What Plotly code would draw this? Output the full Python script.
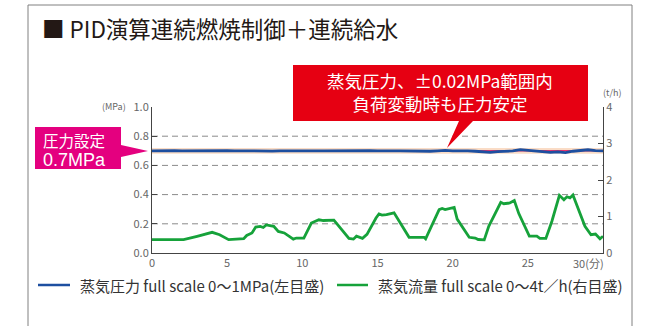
import plotly.graph_objects as go

# Steam pressure (MPa), sampled every 0.5 min
pressure_t = [i * 0.5 for i in range(61)]
pressure = [
    0.700, 0.702, 0.700, 0.701, 0.699, 0.700, 0.701, 0.700, 0.699, 0.700,
    0.701, 0.700, 0.699, 0.700, 0.701, 0.700, 0.698, 0.700, 0.701, 0.699,
    0.700, 0.701, 0.700, 0.699, 0.700, 0.701, 0.699, 0.698, 0.700, 0.701,
    0.699, 0.697, 0.699, 0.700, 0.698, 0.696, 0.695, 0.697, 0.700, 0.703,
    0.699, 0.701, 0.699, 0.697, 0.693, 0.689, 0.694, 0.696, 0.699, 0.708,
    0.702, 0.698, 0.693, 0.689, 0.692, 0.688, 0.697, 0.702, 0.707, 0.701,
    0.699,
]

# Steam flow (t/h)
flow_t = [0, 2.1, 3.0, 3.5, 4.0, 4.5, 5.1, 6.1, 6.3, 6.65, 6.9, 7.2, 7.4, 7.6,
          8.1, 8.4, 8.8, 9.4, 9.6, 10.1, 10.6, 11.1, 11.4, 12.1, 13.1, 13.4,
          13.6, 14.0, 14.3, 14.9, 15.1, 15.3, 15.6, 16.1, 17.1, 18.1, 18.2,
          19.1, 19.3, 19.5, 20.1, 20.3, 21.1, 21.5, 21.7, 22.1, 22.4, 23.2,
          23.4, 23.8, 24.1, 24.4, 25.1, 25.6, 25.8, 26.2, 26.6, 27.1, 27.4,
          27.6, 27.8, 28.0, 28.8, 29.2, 29.5, 29.8, 30.0]
flow = [0.366, 0.366, 0.457, 0.52, 0.567, 0.50, 0.366, 0.39, 0.48, 0.55, 0.71,
        0.73, 0.70, 0.77, 0.73, 0.59, 0.55, 0.38, 0.41, 0.41, 0.82, 0.91, 0.89,
        0.90, 0.40, 0.38, 0.46, 0.40, 0.51, 0.96, 1.07, 1.04, 1.05, 1.10, 0.43,
        0.43, 0.39, 1.19, 1.22, 1.19, 1.25, 0.93, 0.43, 0.41, 0.37, 0.36, 0.73,
        1.39, 1.35, 1.37, 1.44, 1.08, 0.46, 0.46, 0.40, 0.40, 0.87, 1.58, 1.46,
        1.54, 1.51, 1.59, 0.73, 0.50, 0.52, 0.39, 0.46]

set_point = 0.70
band = (0.68, 0.72)
grid_levels = [0.2, 0.4, 0.6, 0.8]
x_ticks = [0, 5, 10, 15, 20, 25]
left_ticks = [0.0, 0.2, 0.4, 0.6, 0.8, 1.0]
right_ticks = [0, 1, 2, 3, 4]

W, H = 646, 326
L, R, T, B = 152, 43, 107, 73
PW, PH = W - L - R, H - T - B

FONT = "Noto Sans CJK JP"
LATIN = "Liberation Sans"
BLUE = "#1d4fa0"
GREEN = "#16a23a"
MAGENTA = "#e4007f"
RED = "#e60012"


def px(x):
    return (x - L) / PW


def py(y):
    return (H - B - y) / PH


def path(points):
    return "M " + " L ".join(f"{px(a):.5f},{py(b):.5f}" for a, b in points) + " Z"


fig = go.Figure()
fig.add_trace(go.Scatter(x=pressure_t, y=pressure, mode="lines",
                         line=dict(color=BLUE, width=2.8), yaxis="y",
                         showlegend=False))
fig.add_trace(go.Scatter(x=flow_t, y=flow, mode="lines",
                         line=dict(color=GREEN, width=2.8), yaxis="y2",
                         showlegend=False))

shapes = []
# tolerance band and set point
shapes.append(dict(type="rect", xref="x", yref="y", x0=0, x1=30,
                   y0=band[0], y1=band[1], fillcolor="#fadcc6",
                   line=dict(width=0), layer="below"))
shapes.append(dict(type="line", xref="x", yref="y", x0=0, x1=30,
                   y0=set_point, y1=set_point,
                   line=dict(color="#e8336c", width=1.6), layer="below"))
for g in grid_levels:
    shapes.append(dict(type="line", xref="x", yref="y", x0=0, x1=30, y0=g, y1=g,
                       line=dict(color="#8a8a8a", width=1, dash="6px,4px"),
                       layer="below"))

# outer frame
shapes.append(dict(type="path", xref="paper", yref="paper",
                   path=f"M {px(28)},{py(340)} L {px(28)},{py(5)} L {px(632)},{py(5)} L {px(632)},{py(340)}",
                   line=dict(color="#808080", width=1)))

# callout boxes
shapes.append(dict(type="path", xref="paper", yref="paper",
                   path=path([(35, 127), (121, 127), (121, 145), (148, 151),
                              (121, 157), (121, 169), (35, 169)]),
                   fillcolor=MAGENTA, line=dict(width=0)))
shapes.append(dict(type="path", xref="paper", yref="paper",
                   path=path([(293, 65), (588, 65), (588, 121), (473, 121),
                              (447, 148), (459, 121), (293, 121)]),
                   fillcolor=RED, line=dict(width=0)))

# legend samples
shapes.append(dict(type="line", xref="paper", yref="paper",
                   x0=px(38), x1=px(70), y0=py(285), y1=py(285),
                   line=dict(color=BLUE, width=2.5)))
shapes.append(dict(type="line", xref="paper", yref="paper",
                   x0=px(337), x1=px(368), y0=py(285), y1=py(285),
                   line=dict(color=GREEN, width=2.5)))

ann = []


def text(x, y, s, size, color="#444", xanchor="left", yanchor="middle",
         align="left", family=FONT):
    ann.append(dict(xref="paper", yref="paper", x=px(x), y=py(y), text=s,
                    showarrow=False, xanchor=xanchor, yanchor=yanchor, align=align,
                    font=dict(family=family, size=size, color=color)))


text(40, 28, "■ PID演算連続燃焼制御＋連続給水", 22.5, "#231815")
text(41, 139.5, "圧力設定", 15.5, "white")
text(41, 159.5, "0.7MPa", 18, "white", family=LATIN)
text(440, 92.5, "蒸気圧力、±0.02MPa範囲内<br>負荷変動時も圧力安定", 17.5, "white",
     xanchor="center", align="center")
text(128, 106, "(MPa)", 9, "#666", xanchor="right")
text(612, 92, "(t/h)", 9, "#666", xanchor="center")
text(606, 263, "30(分)", 11, "#666", xanchor="right")
text(78, 285, "蒸気圧力 full scale 0～1MPa(左目盛)", 15, "#333")
text(376, 285, "蒸気流量 full scale 0～4t／h(右目盛)", 15, "#333")

fig.update_layout(
    width=W, height=H,
    margin=dict(l=L, r=R, t=T, b=B),
    paper_bgcolor="white", plot_bgcolor="white",
    font=dict(family=FONT, size=11, color="#555"),
    shapes=shapes, annotations=ann,
    xaxis=dict(range=[0, 30], tickvals=x_ticks, ticktext=[str(v) for v in x_ticks],
               showgrid=False, zeroline=False, showline=True,
               linecolor="#444", linewidth=1, ticks="", ticklen=0,
               tickfont=dict(size=11, color="#666")),
    yaxis=dict(range=[0, 1], tickvals=left_ticks,
               ticktext=[f"{v:.1f}" for v in left_ticks],
               showgrid=False, zeroline=False, showline=True,
               linecolor="#444", linewidth=1, ticks="inside", ticklen=5,
               tickcolor="#444", tickfont=dict(size=11, color="#666")),
    yaxis2=dict(range=[0, 4], tickvals=right_ticks, overlaying="y", side="right",
                showgrid=False, zeroline=False, showline=True,
                linecolor="#444", linewidth=1, ticks="inside", ticklen=5,
                tickcolor="#444", tickfont=dict(size=11, color="#666")),
)

fig.write_html("out.html")
